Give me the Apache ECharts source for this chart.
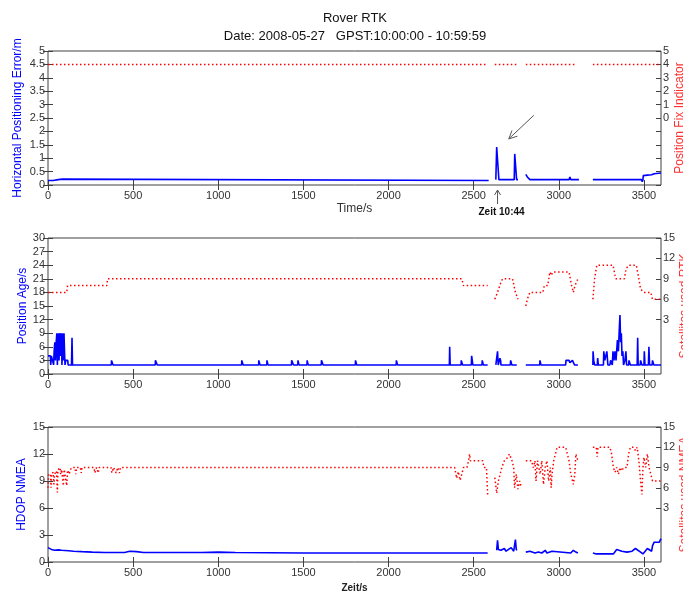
<!DOCTYPE html>
<html>
<head>
<meta charset="utf-8">
<title>Rover RTK</title>
<script src="https://cdn.jsdelivr.net/npm/echarts@6.0.0/dist/echarts.min.js"></script>
<style>
html, body { margin: 0; padding: 0; background: #fff; }
#main { width: 683px; height: 594px; }
</style>
</head>
<body>
<div id="main"></div>
<script>
// time axis (s)
var timeTicks = [0, 500, 1000, 1500, 2000, 2500, 3000, 3500];

// panel 1: horizontal positioning error (m) and position fix indicator
var hpeData = [
    [0, 0.17], [30, 0.17], [35, 0.1], [38, 0.17], [60, 0.2], [70, 0.23], [85, 0.22], [95, 0.17],
    [2588, 0.17], [2600, null],
    [2630, 0.2], [2635, 1.42], [2645, 1.38], [2648, 0.2], [2738, 0.2], [2741, 1.16], [2748, 1.1],
    [2752, 0.2], [2760, 0.2], [2780, null],
    [2806, 0.4], [2815, 0.3], [2830, 0.2], [2870, 0.2], [2880, 0.26], [2900, 0.2], [2950, 0.2],
    [2955, 0.26], [2965, 0.2], [3060, 0.2], [3065, 0.3], [3070, 0.2], [3118, 0.2], [3150, null],
    [3200, 0.2], [3350, 0.2], [3360, 0.25], [3370, 0.2], [3486, 0.2], [3490, 0.12], [3494, 0.2],
    [3496, 0.35], [3520, 0.37], [3545, 0.38], [3560, 0.42], [3600, 0.45]
];
var fixData = [
    [0, 4], [2580, 4], [2600, null], [2624, 4], [2765, 4], [2785, null], [2806, 4], [2955, 4],
    [2958, null], [2965, 4], [3106, 4], [3150, null], [3200, 4], [3600, 4]
];
var hpeTicks = [0, 0.5, 1, 1.5, 2, 2.5, 3, 3.5, 4, 4.5, 5];
var fixTicks = [-5, -4, -3, -2, -1, 0, 1, 2, 3, 4, 5];
var fixLabels = [0, 1, 2, 3, 4, 5];

// panel 2: position age (s) and satellites used RTK
var ageData = [
    [0, 4], [14, 4], [16, 2], [20, 4], [30, 4], [33, 2], [36, 5], [40, 7], [44, 3], [48, 7], [52, 9],
    [55, 2], [58, 6], [62, 9], [65, 3], [68, 8], [72, 9], [75, 4], [78, 9], [82, 2], [85, 7], [88, 9],
    [91, 3], [94, 9], [97, 5], [100, 2], [104, 3], [116, 3], [118, 2],
    [138, 2], [141, 8], [144, 2],
    [372, 2], [373, 3], [381, 3], [382, 2],
    [630, 2], [631, 3], [641, 3], [642, 2],
    [1137, 2], [1138, 3], [1145, 3], [1146, 2],
    [1237, 2], [1238, 3], [1244, 3], [1245, 2],
    [1285, 2], [1286, 3], [1291, 3], [1292, 2],
    [1430, 2], [1431, 3], [1441, 3], [1442, 2],
    [1467, 2], [1468, 3], [1473, 3], [1474, 2],
    [1521, 2], [1522, 3], [1527, 3], [1528, 2],
    [1605, 2], [1606, 3], [1615, 3], [1616, 2],
    [1805, 2], [1806, 3], [1812, 3], [1813, 2],
    [2045, 2], [2046, 3], [2052, 3], [2053, 2],
    [2357, 2], [2359, 6], [2362, 2],
    [2426, 2], [2427, 3], [2434, 3], [2435, 2],
    [2486, 2], [2488, 4], [2493, 4], [2495, 2],
    [2549, 2], [2550, 3], [2556, 3], [2557, 2],
    [2582, 2], [2600, null],
    [2630, 2], [2637, 2], [2640, 5], [2644, 2], [2652, 2], [2654, 3.5], [2658, 3], [2660, 2],
    [2715, 2], [2717, 3], [2722, 3], [2724, 2], [2753, 2], [2780, null],
    [2806, 2], [2888, 2], [2889, 3], [2894, 3], [2895, 2], [3040, 2], [3042, 3], [3060, 3],
    [3065, 2.5], [3080, 3], [3090, 3], [3092, 2], [3112, 2], [3150, null],
    [3200, 2], [3201, 5], [3205, 3], [3210, 2], [3226, 2], [3228, 3.5], [3232, 2], [3262, 2],
    [3264, 5], [3270, 3], [3276, 4], [3282, 5], [3288, 2], [3300, 2], [3304, 3], [3314, 2],
    [3318, 5], [3324, 3], [3330, 5], [3336, 3], [3344, 7.5], [3350, 5], [3354, 9], [3359, 13],
    [3363, 7], [3367, 9], [3371, 4], [3376, 5], [3380, 2], [3388, 3], [3394, 5], [3398, 2],
    [3410, 2], [3412, 3], [3418, 3], [3420, 2], [3460, 2], [3463, 8], [3466, 2], [3478, 2],
    [3480, 3], [3486, 3], [3488, 2], [3500, 2], [3502, 5], [3506, 2], [3526, 2], [3529, 6],
    [3533, 2], [3548, 2], [3550, 3], [3556, 3], [3558, 2], [3600, 2]
];
var rtkSatData = [
    [0, 7], [110, 7], [115, 8], [345, 8], [350, 9], [2430, 9], [2440, 8], [2582, 8], [2600, null],
    [2624, 6], [2640, 7], [2660, 8.5], [2670, 9], [2728, 9], [2745, 7], [2760, 6], [2780, null],
    [2806, 5], [2815, 6], [2830, 7], [2906, 7], [2915, 8], [2935, 8], [2947, 10], [2955, 9.5],
    [2965, 10], [3060, 10], [3075, 8], [3085, 7], [3095, 8], [3112, 9], [3150, null],
    [3200, 6], [3210, 9], [3223, 11], [3318, 11], [3330, 9.5], [3335, 9], [3385, 9], [3395, 10.5],
    [3412, 11], [3455, 11], [3470, 9], [3480, 7.5], [3500, 7], [3540, 7], [3550, 6], [3600, 6]
];
var ageTicks = [0, 3, 6, 9, 12, 15, 18, 21, 24, 27, 30];
var satTicks = [3, 6, 9, 12, 15];

// panel 3: HDOP (NMEA) and satellites used NMEA
var hdopData = [
    [0, 1.6], [10, 1.5], [20, 1.4], [40, 1.3], [60, 1.35], [80, 1.3], [120, 1.25], [150, 1.2],
    [200, 1.15], [260, 1.1], [330, 1.05], [450, 1.05], [480, 1.2], [520, 1.15], [560, 1.05],
    [900, 1.05], [1000, 1.1], [1100, 1.05], [1500, 1.0], [2420, 1.0], [2430, 1.2], [2445, 1.0],
    [2582, 1.0], [2600, null],
    [2635, 1.3], [2640, 2.4], [2645, 1.4], [2660, 1.3], [2680, 1.5], [2690, 1.2], [2700, 1.3],
    [2720, 1.6], [2735, 1.2], [2745, 2.5], [2750, 1.4], [2753, 1.3], [2780, null],
    [2806, 1.1], [2830, 1.2], [2860, 1.0], [2880, 1.1], [2900, 1.0], [2920, 1.3], [2930, 1.0],
    [2960, 1.2], [2970, 1.0], [3070, 1.0], [3085, 1.3], [3100, 1.1], [3112, 1.0], [3150, null],
    [3200, 1.0], [3220, 0.9], [3320, 0.9], [3340, 1.4], [3350, 1.6], [3370, 1.2], [3400, 1.1],
    [3430, 1.2], [3450, 1.5], [3460, 1.3], [3480, 1.1], [3494, 0.9], [3500, 1.0], [3520, 1.5],
    [3530, 1.3], [3545, 1.2], [3550, 1.8], [3560, 2.2], [3590, 2.2], [3600, 2.6]
];
var nmeaSatData = [
    [0, 6], [3, 8], [15, 8], [18, 6], [20, 8], [30, 8.3], [35, 6.5], [38, 8], [50, 8.5], [55, 5.3],
    [58, 8.6], [70, 9], [75, 8], [80, 8.7], [90, 6.3], [95, 8.7], [105, 8.5], [110, 6.3],
    [115, 8.6], [125, 8], [130, 8.6], [140, 9], [160, 9], [163, 8], [168, 9], [190, 9],
    [195, 8.2], [200, 9], [270, 9], [275, 8.2], [285, 9], [295, 8.2], [300, 9], [370, 9],
    [375, 8.2], [385, 9], [400, 8.2], [410, 9], [420, 8.2], [425, 9], [2388, 9], [2400, 7.4],
    [2410, 8.4], [2420, 7.1], [2430, 8], [2440, 9], [2460, 9], [2470, 10], [2476, 11], [2480, 10],
    [2553, 10], [2560, 9], [2575, 9], [2582, 5], [2600, null],
    [2624, 7.5], [2635, 5.2], [2645, 7], [2655, 8], [2665, 9], [2680, 10], [2700, 10.5],
    [2710, 11], [2725, 10], [2735, 9], [2740, 6], [2750, 8], [2760, 5.8], [2770, 7], [2780, 6],
    [2790, null],
    [2806, 10], [2840, 10], [2850, 9], [2860, 10], [2866, 7], [2875, 10], [2890, 8], [2900, 10],
    [2910, 6.5], [2920, 9], [2930, 10], [2940, 7], [2950, 9], [2955, 6], [2960, 8], [2970, 10],
    [2980, 11], [2990, 12], [3040, 12], [3050, 11], [3060, 10], [3070, 8], [3077, 7.4],
    [3085, 6.5], [3094, 8], [3100, 11], [3112, 10], [3150, null],
    [3200, 12], [3220, 12], [3225, 10.6], [3230, 12], [3300, 12], [3310, 11], [3320, 9],
    [3330, 8.3], [3340, 9], [3350, 8], [3360, 9], [3370, 8.5], [3380, 9], [3400, 9], [3410, 11],
    [3420, 12], [3440, 12], [3450, 11.5], [3460, 12], [3470, 10], [3480, 7], [3488, 5], [3494, 9],
    [3500, 10.5], [3510, 9], [3520, 11], [3530, 9], [3540, 8], [3550, 7], [3600, 7]
];
var hdopTicks = [0, 3, 6, 9, 12, 15];

var blue = '#0000ff';
var red = '#ff0000';
var boxColor = '#404040';
var font = 'Liberation Sans, Arial, sans-serif';

var tickStyle = { inside: true, length: 5, lineStyle: { color: boxColor } };
var labelStyle = { color: '#333', fontSize: 11, fontFamily: font };

function plainNumber(v) {
    return String(v);
}

function xAxes(grid, name, nameStyle, nameGap) {
    return [{
        type: 'value', gridIndex: grid, position: 'bottom', min: 0, max: 3600,
        name: name, nameLocation: 'middle', nameGap: nameGap, nameTextStyle: nameStyle,
        nameMoveOverlap: false,
        axisLine: { show: false }, splitLine: { show: false },
        axisTick: Object.assign({ customValues: timeTicks }, tickStyle),
        axisLabel: Object.assign({ customValues: timeTicks, margin: 5, formatter: plainNumber }, labelStyle)
    }, {
        type: 'value', gridIndex: grid, position: 'top', min: 0, max: 3600,
        axisLine: { show: false }, splitLine: { show: false }, axisLabel: { show: false },
        axisTick: Object.assign({ customValues: timeTicks }, tickStyle)
    }];
}

function yAxes(grid, l, r, nameGapL, nameGapR) {
    return [{
        type: 'value', gridIndex: grid, position: 'left', min: l.min, max: l.max,
        name: l.name, nameLocation: 'middle', nameGap: nameGapL, nameRotate: 90,
        nameMoveOverlap: false,
        nameTextStyle: { color: blue, fontSize: 12, fontFamily: font },
        axisLine: { show: false }, splitLine: { show: false },
        axisTick: Object.assign({ customValues: l.ticks }, tickStyle),
        axisLabel: Object.assign({ customValues: l.ticks, margin: 3, formatter: plainNumber }, labelStyle)
    }, {
        type: 'value', gridIndex: grid, position: 'right', min: l.min, max: l.max,
        axisLine: { show: false }, splitLine: { show: false }, axisLabel: { show: false },
        axisTick: Object.assign({ customValues: l.ticks }, tickStyle)
    }, {
        type: 'value', gridIndex: grid, position: 'right', min: r.min, max: r.max,
        name: r.name, nameLocation: 'middle', nameGap: nameGapR, nameRotate: 90,
        nameMoveOverlap: false,
        nameTextStyle: { color: '#ff3030', fontSize: 12, fontFamily: font },
        axisLine: { show: false }, splitLine: { show: false },
        axisTick: Object.assign({ customValues: r.ticks }, tickStyle),
        axisLabel: Object.assign({ customValues: r.labels, margin: 2, formatter: plainNumber }, labelStyle)
    }];
}

function lineSeries(x, y, data, color, dotted) {
    return {
        type: 'line', xAxisIndex: x, yAxisIndex: y, data: data,
        symbol: 'none', connectNulls: false, silent: true,
        lineStyle: dotted ? { color: color, width: 1.5, type: [1.5, 2.5] } : { color: color, width: 1.6 }
    };
}

var gridBox = {
    show: true, borderColor: boxColor, borderWidth: 1, backgroundColor: '#fff',
    containLabel: false, outerBoundsMode: 'none'
};

var option = {
    animation: false,
    backgroundColor: '#fff',
    grid: [
        Object.assign({ left: 48, top: 51, width: 613, height: 134 }, gridBox),
        Object.assign({ left: 48, top: 238, width: 613, height: 136 }, gridBox),
        Object.assign({ left: 48, top: 427, width: 613, height: 135 }, gridBox)
    ],
    xAxis: [].concat(
        xAxes(0, 'Time/s', { color: '#333', fontSize: 12, fontFamily: font }, 18),
        xAxes(1, '', {}, 18),
        xAxes(2, 'Zeit/s', { color: '#222', fontSize: 10, fontWeight: 'bold', fontFamily: font }, 21)
    ),
    yAxis: [].concat(
        yAxes(0,
            { min: 0, max: 5, ticks: hpeTicks, name: 'Horizontal Positioning Error/m' },
            { min: -5, max: 5, ticks: fixTicks, labels: fixLabels, name: 'Position Fix Indicator' },
            24, 13),
        yAxes(1,
            { min: 0, max: 30, ticks: ageTicks, name: 'Position Age/s' },
            { min: -5, max: 15, ticks: satTicks, labels: satTicks, name: 'Satellites used RTK' },
            19, 18),
        yAxes(2,
            { min: 0, max: 15, ticks: hdopTicks, name: 'HDOP NMEA' },
            { min: -5, max: 15, ticks: satTicks, labels: satTicks, name: 'Satellites used NMEA' },
            20, 18)
    ),
    series: [
        lineSeries(0, 2, fixData, red, true),
        lineSeries(0, 0, hpeData, blue, false),
        lineSeries(2, 5, rtkSatData, red, true),
        lineSeries(2, 3, ageData, blue, false),
        lineSeries(4, 8, nmeaSatData, red, true),
        lineSeries(4, 6, hdopData, blue, false)
    ]
};

var myChart = echarts.init(document.getElementById('main'));
myChart.setOption(option);

// annotations: title, arrows and "Zeit 10:44"
var arrowX = myChart.convertToPixel({ xAxisIndex: 0 }, 2640);
var tail = myChart.convertToPixel({ xAxisIndex: 0, yAxisIndex: 0 }, [2853, 2.6]);
var tip = myChart.convertToPixel({ xAxisIndex: 0, yAxisIndex: 0 }, [2706, 1.72]);
var ang = Math.atan2(tail[1] - tip[1], tail[0] - tip[0]);
var head = 9;
var gray = '#555';

myChart.setOption({
    graphic: [
        { type: 'text', x: 355, y: 18, style: { text: 'Rover RTK', fill: '#111', font: '13px ' + font, align: 'center', verticalAlign: 'middle' } },
        { type: 'text', x: 355, y: 36, style: { text: 'Date: 2008-05-27   GPST:10:00:00 - 10:59:59', fill: '#111', font: '13px ' + font, align: 'center', verticalAlign: 'middle' } },
        { type: 'line', shape: { x1: arrowX, y1: 204, x2: arrowX, y2: 190 }, style: { stroke: gray, lineWidth: 1 } },
        { type: 'polyline', shape: { points: [[arrowX - 3, 195], [arrowX, 190], [arrowX + 3, 195]] }, style: { stroke: gray, fill: null, lineWidth: 1 } },
        { type: 'text', x: arrowX + 4, y: 212, style: { text: 'Zeit 10:44', fill: '#111', font: 'bold 10px ' + font, align: 'center', verticalAlign: 'middle' } },
        { type: 'line', shape: { x1: tail[0], y1: tail[1], x2: tip[0], y2: tip[1] }, style: { stroke: gray, lineWidth: 1 } },
        { type: 'polyline', shape: { points: [
            [tip[0] + head * Math.cos(ang - 0.45), tip[1] + head * Math.sin(ang - 0.45)],
            [tip[0], tip[1]],
            [tip[0] + head * Math.cos(ang + 0.45), tip[1] + head * Math.sin(ang + 0.45)]
        ] }, style: { stroke: gray, fill: null, lineWidth: 1 } }
    ]
});
</script>
</body>
</html>
